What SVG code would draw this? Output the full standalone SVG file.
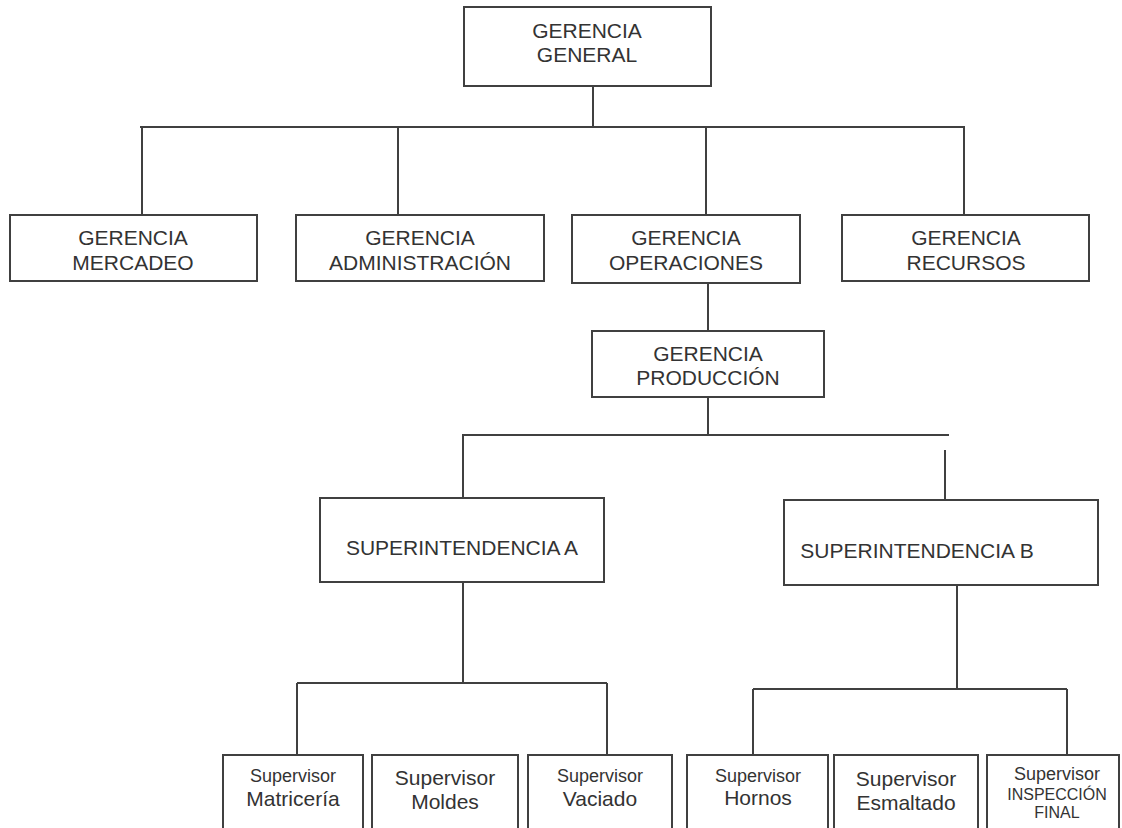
<svg xmlns="http://www.w3.org/2000/svg" width="1122" height="828" viewBox="0 0 1122 828">
<style>
.box{fill:#fff;stroke:#404040;stroke-width:2}
.ln{fill:none;stroke:#404040;stroke-width:2}
text{font-family:"Liberation Sans",Arial,sans-serif;fill:#333;text-anchor:middle;font-size:21px}
.s{font-size:18px}
.xs{font-size:16px}
</style>
<rect width="1122" height="828" fill="#fff"/>
<g id="connectors">
<path class="ln" d="M593 84V127M140 127H965M142 127V215M398 127V215M706 127V215M964 127V215"/>
<path class="ln" d="M708 283V331M708 397V435M462 435H949M463 435V498M945 450V500"/>
<path class="ln" d="M463 582V683M297 683H607M297 683V755M607 683V755"/>
<path class="ln" d="M957 585V689M753 689H1067M753 689V755M1067 689V755"/>
</g>
<g id="n-general"><rect class="box" x="464" y="7" width="247" height="79"/><text x="587" y="38">GERENCIA</text><text x="587" y="62">GENERAL</text></g>
<g id="n-mercadeo"><rect class="box" x="10" y="215" width="247" height="66"/><text x="133" y="245">GERENCIA</text><text x="133" y="270">MERCADEO</text></g>
<g id="n-admin"><rect class="box" x="296" y="215" width="248" height="66"/><text x="420" y="245">GERENCIA</text><text x="420" y="270">ADMINISTRACIÓN</text></g>
<g id="n-operaciones"><rect class="box" x="572" y="215" width="228" height="68"/><text x="686" y="245">GERENCIA</text><text x="686" y="270">OPERACIONES</text></g>
<g id="n-recursos"><rect class="box" x="842" y="215" width="247" height="66"/><text x="966" y="245">GERENCIA</text><text x="966" y="270">RECURSOS</text></g>
<g id="n-produccion"><rect class="box" x="592" y="331" width="232" height="66"/><text x="708" y="361">GERENCIA</text><text x="708" y="385">PRODUCCIÓN</text></g>
<g id="n-supA"><rect class="box" x="320" y="498" width="284" height="84"/><text x="462" y="555">SUPERINTENDENCIA A</text></g>
<g id="n-supB"><rect class="box" x="784" y="500" width="314" height="85"/><text x="917" y="558">SUPERINTENDENCIA B</text></g>
<g id="n-matriceria"><rect class="box" x="223" y="755" width="140" height="90"/><text class="s" x="293" y="782">Supervisor</text><text x="293" y="806">Matricería</text></g>
<g id="n-moldes"><rect class="box" x="372" y="755" width="146" height="90"/><text x="445" y="785">Supervisor</text><text x="445" y="809">Moldes</text></g>
<g id="n-vaciado"><rect class="box" x="528" y="755" width="144" height="90"/><text class="s" x="600" y="782">Supervisor</text><text x="600" y="806">Vaciado</text></g>
<g id="n-hornos"><rect class="box" x="687" y="755" width="141" height="90"/><text class="s" x="758" y="782">Supervisor</text><text x="758" y="805">Hornos</text></g>
<g id="n-esmaltado"><rect class="box" x="834" y="755" width="144" height="90"/><text x="906" y="786">Supervisor</text><text x="906" y="810">Esmaltado</text></g>
<g id="n-inspeccion"><rect class="box" x="987" y="755" width="132" height="90"/><text class="s" x="1057" y="780">Supervisor</text><text class="xs" x="1057" y="800">INSPECCIÓN</text><text class="xs" x="1057" y="818">FINAL</text></g>
</svg>
